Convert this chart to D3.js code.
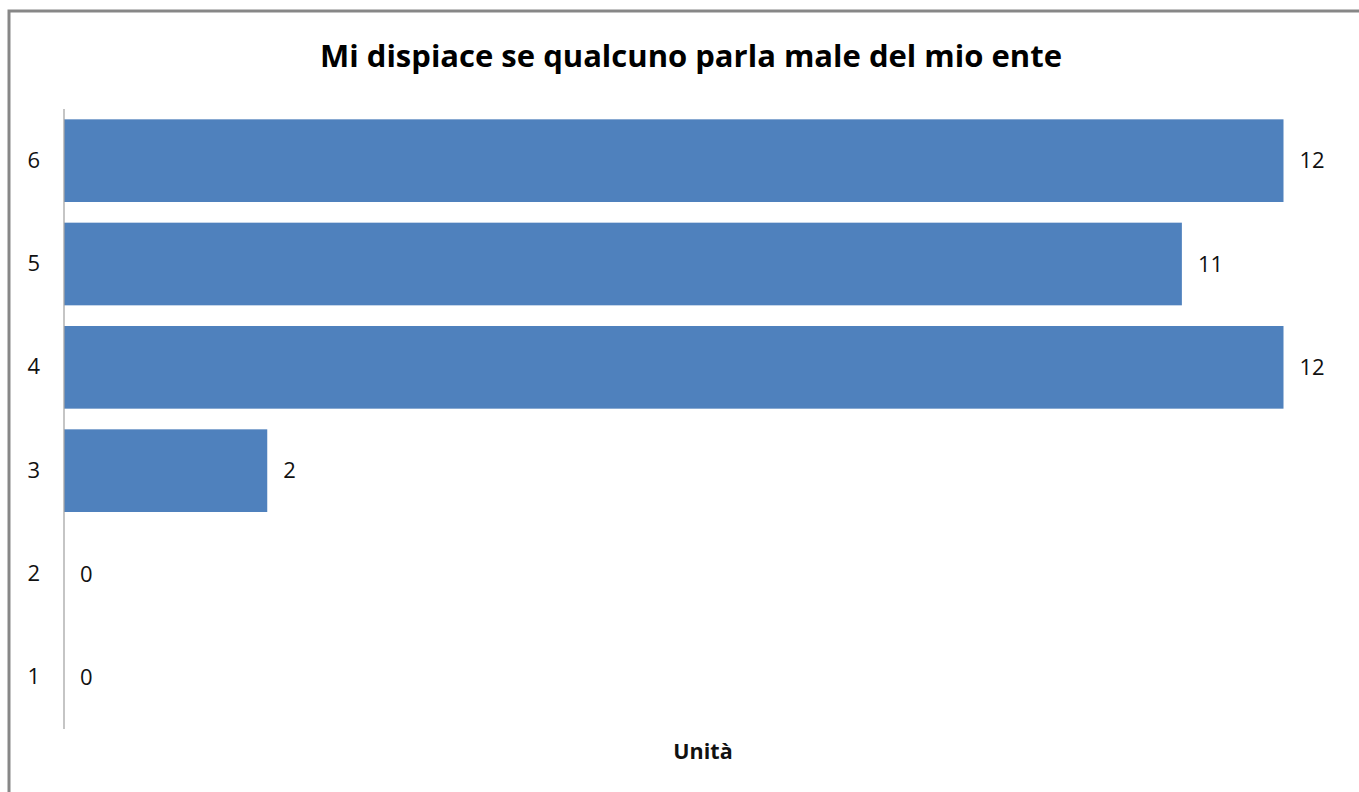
<!DOCTYPE html>
<html><head><meta charset="utf-8">
<script src="https://cdn.jsdelivr.net/npm/d3@7"></script>
<style>body{margin:0;background:#fff}svg{display:block}</style>
</head><body>
<svg id="c" width="1359" height="792"></svg>
<script>
const categories = ["1","2","3","4","5","6"];
const values = [0,0,2,12,11,12];
const title = "Mi dispiace se qualcuno parla male del mio ente";
const axisTitle = "Unità";

const svg = d3.select("#c");
const font = "'Open Sans', 'Noto Sans', sans-serif";
svg.append("rect").attr("x",9).attr("y",11).attr("width",1400).attr("height",900)
  .attr("fill","#fff").attr("stroke","#878787").attr("stroke-width",3);

const x0 = 64, y0 = 109, y1 = 729;
const x = d3.scaleLinear().domain([0,12]).range([x0,1283.5]);
const y = d3.scaleBand().domain(categories.slice().reverse()).range([y0,y1]).paddingInner(0.2).paddingOuter(0.1);

svg.append("text").attr("x",691).attr("y",67).attr("text-anchor","middle")
  .attr("font-family",font).attr("font-weight","bold").attr("font-size",31).attr("fill","#000").text(title);

svg.append("g").selectAll("rect").data(categories).join("rect")
  .attr("x",x(0)).attr("y",d=>y(d)).attr("width",(d,i)=>x(values[i])-x(0)).attr("height",y.bandwidth())
  .attr("fill","#4F81BD");

const ax = svg.append("g").attr("transform",`translate(${x0},0)`)
  .call(d3.axisLeft(y).tickSize(0).tickPadding(24));
ax.select(".domain").attr("stroke","#a6a6a6").attr("stroke-width",1.3).attr("d",`M0,${y0}V${y1}`);
ax.selectAll("text").attr("font-family",font).attr("font-size",22).attr("fill","#111");

svg.append("g").selectAll("text").data(categories).join("text")
  .attr("x",(d,i)=>x(values[i])+16).attr("y",d=>y(d)+y.bandwidth()/2).attr("dy","0.35em")
  .attr("font-family",font).attr("font-size",22).attr("fill","#111").text((d,i)=>values[i]);

svg.append("text").attr("x",703).attr("y",759).attr("text-anchor","middle")
  .attr("font-family",font).attr("font-weight","bold").attr("font-size",21.5).attr("fill","#111").text(axisTitle);
</script>
</body></html>
